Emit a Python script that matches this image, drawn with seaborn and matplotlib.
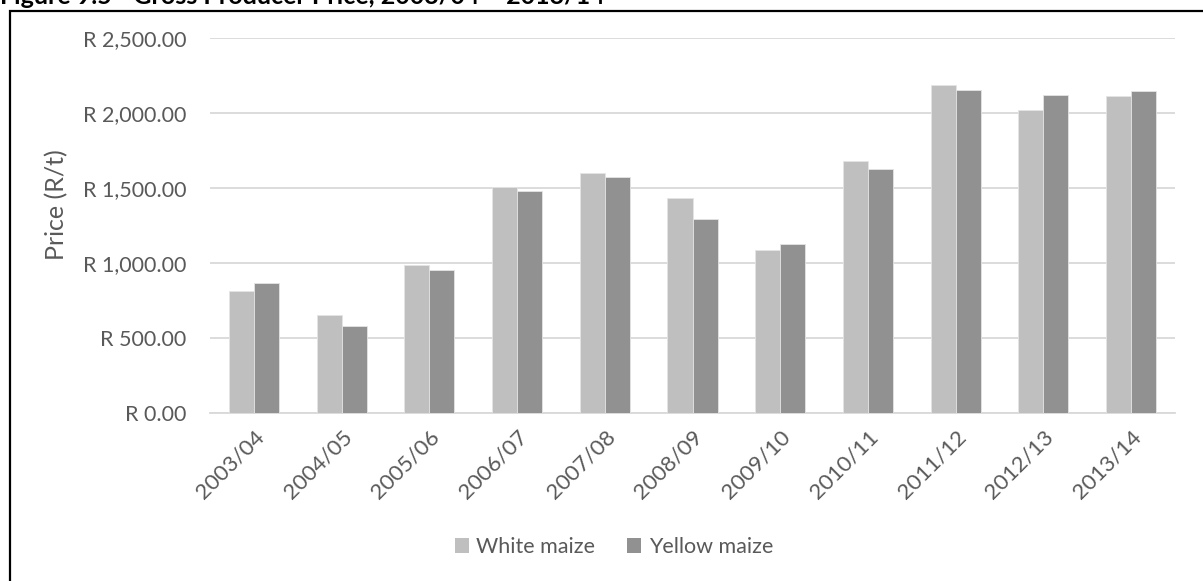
import matplotlib
matplotlib.use("Agg")
import matplotlib.pyplot as plt
import matplotlib.patches as mpatches
from matplotlib.ticker import FuncFormatter, FixedLocator
import seaborn as sns
import pandas as pd

seasons = ["2003/04", "2004/05", "2005/06", "2006/07", "2007/08", "2008/09",
           "2009/10", "2010/11", "2011/12", "2012/13", "2013/14"]
white_maize = [815, 652, 990, 1507, 1597, 1435, 1090, 1683, 2190, 2020, 2115]
yellow_maize = [868, 580, 954, 1478, 1572, 1295, 1124, 1628, 2155, 2117, 2150]
series_names = ["White maize", "Yellow maize"]
series_colors = ["#BFBFBF", "#919191"]

df = pd.DataFrame({
    "Season": seasons * 2,
    "Price": white_maize + yellow_maize,
    "Variety": [series_names[0]] * len(seasons) + [series_names[1]] * len(seasons),
})

sns.set_style("white")
plt.rcParams["font.family"] = ["Lato", "DejaVu Sans"]

W, H = 1203, 581
fig = plt.figure(figsize=(W / 100, H / 100), dpi=100)
ax = fig.add_axes([210 / W, 1 - 413 / H, (1175 - 210) / W, (413 - 38) / H])

sns.barplot(data=df, x="Season", y="Price", hue="Variety", order=seasons,
            hue_order=series_names, palette=series_colors, width=0.57,
            edgecolor="#E4E4E4", linewidth=0.6, ax=ax, legend=False, zorder=3)

grid_c = "#D9D9D9"
text_c = "#595959"

ax.set_ylim(0, 2500)
ax.set_xlim(-0.5, len(seasons) - 0.5)
ax.set_yticks([0, 500, 1000, 1500, 2000, 2500])
ax.yaxis.set_major_formatter(FuncFormatter(lambda v, p: f"R {v:,.2f}"))
ax.grid(axis="y", color=grid_c, linewidth=1.3, zorder=0)
ax.set_axisbelow(True)

for s in ["top", "right", "left"]:
    ax.spines[s].set_visible(False)
ax.spines["bottom"].set_color(grid_c)
ax.spines["bottom"].set_linewidth(1.3)

# tick marks sit on category boundaries
ax.xaxis.set_minor_locator(FixedLocator([i - 0.5 for i in range(len(seasons) + 1)]))
ax.tick_params(axis="x", which="minor", length=6, width=1.3, color=grid_c, direction="out")
ax.tick_params(axis="x", which="major", length=0, pad=10, labelsize=16, labelcolor=text_c)
ax.tick_params(axis="y", length=0, pad=17, labelsize=15.5, labelcolor=text_c)
plt.setp(ax.get_xticklabels(), rotation=45, ha="right", rotation_mode="anchor")

ax.set_xlabel("")
ax.set_ylabel("Price (R/t)", fontsize=18, color=text_c)
ax.yaxis.set_label_coords(-142 / (1175 - 210), 0.556)

handles = [mpatches.Patch(facecolor=c, edgecolor="none") for c in series_colors]
fig.legend(handles, series_names, loc="center", bbox_to_anchor=(614 / W, 1 - 547 / H),
           ncol=2, frameon=False, fontsize=15.5, labelcolor=text_c,
           handlelength=0.65, handleheight=0.65, handletextpad=0.35, columnspacing=1.5)

# outer frame and clipped caption
fig.patches.append(mpatches.Rectangle((10 / W, -0.1), 1.2, 1.1 - 11 / H,
                                      transform=fig.transFigure, fill=False,
                                      edgecolor="black", linewidth=1.6))
fig.text(0.0, 1 - 4 / H, "Figure 9.5 - Gross Producer Price, 2003/04 \u2013 2013/14",
         fontsize=18, fontweight="bold", va="baseline", ha="left", color="black")

fig.savefig("out.png", dpi=100)
